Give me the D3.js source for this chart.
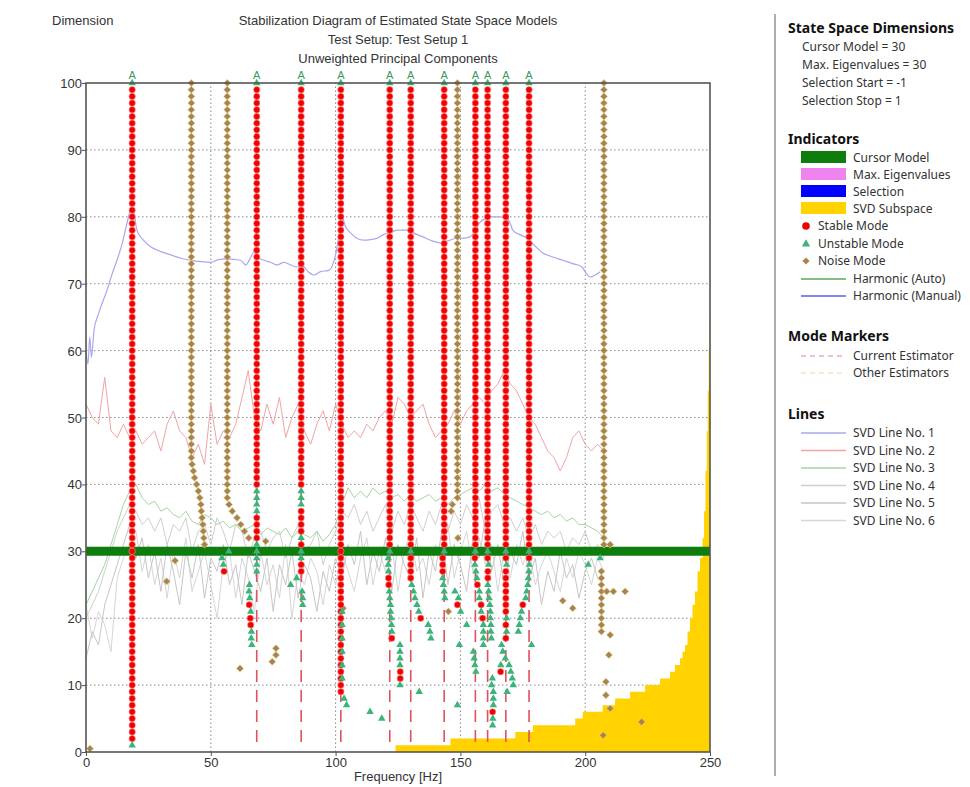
<!DOCTYPE html>
<html>
<head>
<meta charset="utf-8">
<title>Stabilization Diagram</title>
<script src="https://cdnjs.cloudflare.com/ajax/libs/d3/7.8.5/d3.min.js"></script>
<style>
    body { margin: 0; background: #fff; }
    text { font-family: "Liberation Sans", Arial, sans-serif; fill: #333; }
    .leg text { font-family: "Noto Sans", "Open Sans", sans-serif; }
</style>
</head>
<body>
<svg id="chart" width="970" height="787"></svg>
<script>
// ---- data ----
var xTicks = [0, 50, 100, 150, 200, 250]
var yTicks = [0, 10, 20, 30, 40, 50, 60, 70, 80, 90, 100]
var titleLines = ["Stabilization Diagram of Estimated State Space Models",
    "Test Setup: Test Setup 1", "Unweighted Principal Components"]
var cursorModel = 30

// stable mode columns (red dots from low dim up to 99)
var stableFreq = [18.5, 68.4, 86.2, 102.1, 121.7, 130.1, 143.5, 156, 160.9, 168.2, 177.5]
var stableLow = [2, 40, 40, 9, 31, 31, 31, 31, 31, 31, 31]

// noise mode columns (diamonds from low dim up to 100)
var noiseFreq = [42.2, 56.6, 148.8, 207.5]
var noiseLow = [44, 38, 38, 31]

// extra stable points [Hz, dim]
var stablePts = [[68.4,35],[68.4,34],[68.4,33],[68.4,32],[55.3,27],[65.4,22],[65.8,20],[66,19],
    [86.2,36],[86.2,35],[86.2,34],[86.2,33],[86.2,31],[86.2,28],[86.2,27],
    [121.2,26],[121.3,25],[122.5,17],[125.9,12],[125.9,11],
    [130.1,29],[130.1,28],[130.1,27],[130.1,26],[134.1,20],
    [142.9,29],[142.9,28],[142.9,27],[148.8,22],
    [155.8,29],[156.8,25],[158.3,22],[158.9,20],
    [160.9,29],[161,27],[161,26],[162.9,6],
    [168.2,29],[168.2,27],[168.2,26],[168.2,25],[168.2,24],[168.2,23],[168.2,22],[168.2,21],[168.2,19],[168.2,17],[166.1,12],
    [177.5,29],[175,22]]

// unstable points [Hz, dim]
var unstablePts = [[18.5,1],[68.4,39],[68.4,38],[68.4,37],[68.4,36],[68.4,31],[68.4,30],[68.4,29],[68.4,28],[68.4,27],
    [54.5,29],[55,28],[57.2,30],[65.5,25],[65.3,24],[65.6,23],[66,21],[66.3,18],[66.2,17],[66.4,16],
    [86.2,39],[86.2,38],[86.2,37],[86.2,32],[86.2,30],[86.2,29],[84.4,26],[82,25],[86.6,24],[86.8,23],[86.8,22],
    [102.6,21],[102.6,19],[102.6,17],[102.6,15],[102.6,13],[102.6,11],[103.4,8],[104.4,7],[113.8,6],[118.5,5],
    [121.7,30],[121.1,29],[121.1,28],[121.2,27],[121.5,24],[121.7,23],[122,22],[122,21],[122.3,20],[122.4,19],[122.5,18],
    [125.8,16],[125.8,15],[125.8,14],[125.8,13],[125.8,10],[133.5,9],
    [130.1,30],[130.5,25],[131.2,24],[131.8,23],[132.6,22],[133.3,21],[137.1,19],[137.8,18],[138.2,17],
    [143.5,30],[142.9,26],[143.2,25],[143.5,24],[143.8,23],[147.8,24],[149.2,23],[150.1,21],[152.5,19],[149.6,16],[148.8,7],
    [156,30],[155.8,28],[156.2,27],[156.6,26],[157.6,24],[157.6,23],[158.3,21],[159.2,19],[159.2,18],[159.2,17],[159.2,16],
    [155.2,15],[155.5,14],[155.8,13],[156.2,12],
    [160.9,30],[161.3,28],[161,25],[161.3,24],[161.5,23],[161.8,22],[162,21],[162,20],[162.2,19],[162.2,18],[162.4,17],
    [162.8,11],[162.5,10],[163.2,9],[163.2,8],[163.2,7],[163,5],[162.9,4],
    [168.2,30],[168.5,28],[168.5,20],[168.5,18],[166.5,16],[167,15],[168,14],[166.2,13],[169.5,13],[170.2,12],[170.8,11],[171.2,10],[168.7,9],
    [177.5,30],[177.6,28],[177.4,27],[177.2,26],[177,25],[176.6,24],[176.2,23],[174.5,21],[174,20],[173.6,19],[173.2,18],[178.5,16],
    [201.2,28],[206,29]]

// extra noise points [Hz, dim]
var noisePts = [[42.5,43],[43,42],[43.5,41],[44.3,40],[45,39],[45.6,38],[46,37],[46.2,36],[46.5,35],[46.8,34],[47,33],[47.2,32],[47.5,31],
    [57.3,37],[58.6,36],[60.5,35],[62,34],[63.5,33],[65.2,32],[72,31.5],
    [146.8,37],[146.3,36],[149,32],[210,31],
    [206.5,27],[206.5,26],[206.5,25],[206.5,24],[206.5,23],[206.5,22],[206.5,21],[206.5,20],[206.5,19],[206.5,18],
    [208.6,24],[211.3,24],[216,24],[210,17.5],[209.5,14.5],[208.3,10.5],[208.3,8.5],[210,6.5],[207.2,2.5],[222.6,4.5],
    [191,22.6],[195,21.5],[145.2,21],[103,21.5],
    [1.6,0.5],[35.7,28.6],[32.3,25.5],[61.7,12.5],[74.6,13.5],[76.1,14.5],[76.1,15.5]]

// SVD lines, sampled every 2.5 Hz from 0 to 207.5 Hz
var svdFreq = d3.range(0, 208, 2.5)
var svdLine2 = [52, 50, 49, 56, 48, 47, 49, 47, 48, 46,
    47, 48, 45, 49, 51, 48, 47, 44, 46, 43,
    52, 46, 48, 47, 49, 53, 57, 50, 48, 52,
    49, 53, 47, 50, 52, 48, 46, 49, 51, 48,
    52, 49, 47, 48, 47, 49, 48, 50, 51, 49,
    53, 52, 50, 51, 52, 49, 47, 48, 49, 51,
    49, 51, 52, 53, 52, 54, 55, 57, 55, 54,
    52, 50, 49, 47, 45, 44, 42, 44, 47, 48,
    46, 45, 46, 45]
var svdLine3 = [22, 24, 26, 28, 31, 34, 37, 39, 40, 38,
    37, 37.5, 36, 36.5, 35.5, 35, 36, 34.5, 34, 35.5,
    35, 34, 34.5, 33.5, 34, 33, 33.5, 34, 32.5, 33.5,
    33, 32.5, 33.5, 32, 33, 32.5, 32, 33, 31.5, 32.5,
    34, 37, 39.5, 38, 39, 38, 39.5, 38.5, 39, 38,
    38.5, 37.5, 38.5, 37.5, 38, 38.5, 37.5, 38, 37, 38,
    38.5, 39, 39.5, 39, 40, 39, 39.5, 38.5, 38, 37.5,
    37, 36.5, 36, 35.5, 36, 35, 35.5, 34.5, 35, 34,
    34, 33.5, 33, 32]
var svdLine4 = [20, 22, 24, 27, 30, 33, 35, 37, 36, 34,
    35, 33, 35, 31, 34, 33, 35, 30, 33, 34,
    31, 35, 33, 30, 34, 33, 29, 32, 33, 30,
    32, 33, 29, 32, 34, 30, 31, 33, 28, 31,
    33, 36, 35, 37, 34, 36, 33, 35, 37, 33,
    36, 34, 37, 35, 33, 36, 34, 37, 33, 36,
    34, 37, 35, 38, 33, 36, 37, 34, 35, 33,
    35, 32, 34, 31, 33, 32, 33, 30, 32, 31,
    33, 30, 31, 29]
var svdLine5 = [14, 18, 16, 22, 25, 28, 31, 34, 29, 32,
    26, 30, 24, 31, 27, 22, 30, 26, 31, 23,
    29, 27, 31, 25, 28, 22, 30, 27, 24, 29,
    21, 28, 25, 30, 23, 28, 26, 21, 27, 24,
    29, 26, 31, 28, 33, 25, 30, 27, 32, 24,
    31, 28, 26, 32, 23, 30, 27, 33, 25, 31,
    28, 24, 32, 29, 35, 27, 31, 25, 30, 28,
    33, 26, 29, 22, 27, 24, 30, 26, 28, 23,
    27, 29, 26, 25]
var svdLine6 = [22, 17, 21, 19, 15, 26, 29, 31, 33, 27,
    31, 25, 29, 23, 30, 26, 32, 24, 27, 30,
    25, 20, 28, 30, 23, 29, 26, 21, 30, 25,
    28, 23, 31, 20, 27, 25, 29, 27, 22, 28,
    25, 30, 27, 24, 29, 32, 25, 30, 27, 31,
    24, 30, 33, 27, 29, 25, 31, 28, 34, 26,
    30, 33, 27, 32, 28, 31, 24, 30, 26, 31,
    28, 30, 25, 28, 30, 27, 24, 29, 26, 30,
    28, 25, 29, 27]
// SVD line 1 [Hz, value]
var svdLine1 = [[0,60],[0.8,58],[1.5,62],[2.2,59],[3.2,63],[5,65.5],[8.4,69],[10.5,71.5],[12.4,73.5],[14.5,76],
    [16.4,79],[18.4,81.5],[19.5,80],[20.4,78],[23,76.5],[26,75.5],[30,74.8],[34,74.3],[38,73.8],[42,73.5],
    [46,73.3],[50,73.2],[53,73.6],[56.5,73.7],[60,73.6],[62,73.5],[64,72.8],[65.5,73.6],[67.3,74.7],[69,73.9],
    [71.3,73.5],[74,73.2],[76.5,72.8],[79.3,73.2],[82,72.8],[84.5,72.5],[87,72.6],[89,71.8],[91.3,71.3],[94,71.8],
    [97.4,72],[99,73],[100.6,75.5],[101.6,78],[102.6,80],[104,78.5],[106,77.6],[108.5,76.8],[111.4,76.5],[114,76.6],
    [116.6,76.8],[119,77.3],[122.2,77.7],[125,78],[128.6,78],[131,77.6],[135,77],[138,76.5],[141.8,76.1],[145,76.4],
    [148.6,76.8],[151,76.8],[153.8,77],[156,78],[157.9,79.2],[160,79.7],[161.9,80],[165,80],[168.7,79.8],[170,79],
    [171,78],[174,77.3],[176.7,76.8],[180,75.6],[183,74.6],[187,74],[191,73.5],[195,73],[198.7,72.5],[200.5,71.5],
    [202,71],[204,71.3],[206,71.8]]

// SVD subspace (yellow step area) [Hz, dim]
var subspace = [[124,1],[146,2],[172,3],[179,4],[196,5],[199,6],[207,7],[212,8],[218,9],[224,10],
    [230,11],[234,12],[236,13],[238,14],[239,15],[240,16],[241,18],[242,20],[243,22],[244,24],
    [245,27],[246,29],[247,32],[247.6,36],[248.2,42],[248.7,48],[249.1,54],[249.5,60],[249.8,65],[250,65]]

var svdColors = ["#a7a7f2", "#f2a3a3", "#a3d6a3", "#cfcfcf", "#c6c6c6", "#d6d6d6"]

// ---- drawing ----
var svg = d3.select("#chart")
var x = d3.scaleLinear([0, 250], [86, 710])
var y = d3.scaleLinear([0, 100], [752, 83])

// grid
svg.append("g").selectAll("line").data(xTicks.slice(1, -1)).enter()
    .append("line")
    .attr("x1", d => x(d)).attr("x2", d => x(d))
    .attr("y1", y(0)).attr("y2", y(100))
    .attr("stroke", "#888").attr("stroke-dasharray", "1.5,2.5")
svg.append("g").selectAll("line").data(yTicks.slice(1, -1)).enter()
    .append("line")
    .attr("x1", x(0)).attr("x2", x(250))
    .attr("y1", d => y(d)).attr("y2", d => y(d))
    .attr("stroke", "#888").attr("stroke-dasharray", "1.5,2.5")

// SVD subspace
svg.append("path")
    .datum(subspace)
    .attr("fill", "#ffd200")
    .attr("d", d3.area().x(d => x(d[0])).y0(y(0)).y1(d => y(d[1])).curve(d3.curveStepAfter))

// SVD lines, back to front
var gridLines = [svdLine6, svdLine5, svdLine4, svdLine3, svdLine2]
var lineGen = d3.line().x(d => x(d[0])).y(d => y(d[1]))
gridLines.forEach(function (vals, k) {
    svg.append("path")
        .datum(svdFreq.map((f, i) => [f, vals[i]]))
        .attr("fill", "none")
        .attr("stroke", svdColors[5 - k])
        .attr("stroke-width", 1)
        .attr("d", lineGen)
})
svg.append("path")
    .datum(svdLine1)
    .attr("fill", "none").attr("stroke", svdColors[0]).attr("stroke-width", 1.2)
    .attr("d", lineGen.curve(d3.curveMonotoneX))

// cursor model
svg.append("line")
    .attr("x1", x(0)).attr("x2", x(250))
    .attr("y1", y(cursorModel)).attr("y2", y(cursorModel))
    .attr("stroke", "#0e7d0e").attr("stroke-width", 9)

// mode markers, current estimator
svg.append("g").selectAll("line").data(stableFreq).enter()
    .append("line")
    .attr("x1", d => x(d)).attr("x2", d => x(d))
    .attr("y1", y(1.5)).attr("y2", y(100))
    .attr("stroke", "#e2505e").attr("stroke-width", 1.6)
    .attr("stroke-dasharray", "12,8")

// noise columns
var noiseAll = []
noiseFreq.forEach(function (f, i) {
    d3.range(noiseLow[i], 101).forEach(d => noiseAll.push([f, d]))
})
noiseAll = noiseAll.concat(noisePts)
var diamond = d3.symbol(d3.symbolSquare).size(25)
svg.append("g").selectAll("path").data(noiseAll).enter()
    .append("path")
    .attr("d", diamond)
    .attr("transform", d => "translate(" + x(d[0]) + "," + y(d[1]) + ") rotate(45)")
    .attr("fill", "#a8844a")
    .attr("stroke", "#e0c890").attr("stroke-width", 0.6)

// stable columns
var stableAll = []
stableFreq.forEach(function (f, i) {
    d3.range(stableLow[i], 100).forEach(d => stableAll.push([f, d]))
})
stableAll = stableAll.concat(stablePts)
svg.append("g").selectAll("circle").data(stableAll).enter()
    .append("circle")
    .attr("cx", d => x(d[0])).attr("cy", d => y(d[1]))
    .attr("r", 3.2)
    .attr("fill", "#f00000")
    .attr("stroke", "#ff9a9a").attr("stroke-width", 0.6)

// unstable
var triAll = unstablePts.concat(stableFreq.map(f => [f, 100]))
var tri = d3.symbol(d3.symbolTriangle).size(24)
svg.append("g").selectAll("path").data(triAll).enter()
    .append("path")
    .attr("d", tri)
    .attr("transform", d => "translate(" + x(d[0]) + "," + y(d[1]) + ")")
    .attr("fill", "#3cb37a")

// A labels above stable columns
svg.append("g").selectAll("text").data(stableFreq).enter()
    .append("text")
    .attr("x", d => x(d)).attr("y", y(100) - 4)
    .attr("text-anchor", "middle")
    .style("font-size", "11px")
    .style("fill", "#3a9a5a")
    .text("A")

// frame
svg.append("rect")
    .attr("x", x(0)).attr("y", y(100))
    .attr("width", x(250) - x(0)).attr("height", y(0) - y(100))
    .attr("fill", "none").attr("stroke", "#555").attr("stroke-width", 1.6)

// axes
var yAxis = svg.append("g")
    .attr("transform", "translate(" + x(0) + ",0)")
    .call(d3.axisLeft(y).tickValues(yTicks).tickSize(4).tickSizeOuter(0))
var xAxis = svg.append("g")
    .attr("transform", "translate(0," + y(0) + ")")
    .call(d3.axisBottom(x).tickValues(xTicks).tickSize(4).tickSizeOuter(0))
svg.selectAll(".domain").remove()
svg.selectAll(".tick line").attr("stroke", "#555")
yAxis.selectAll("text").style("font-size", "13px").attr("x", -4).attr("dy", "0.35em").style("fill", "#333")
xAxis.selectAll("text").style("font-size", "13px").attr("y", 6).style("fill", "#333")

svg.append("text").attr("x", 398).attr("y", 781).attr("text-anchor", "middle")
    .style("font-size", "13px").text("Frequency [Hz]")
svg.append("text").attr("x", 52).attr("y", 25)
    .style("font-size", "13px").text("Dimension")
svg.append("g").selectAll("text").data(titleLines).enter()
    .append("text")
    .attr("x", 398).attr("y", (d, i) => 25 + i * 19)
    .attr("text-anchor", "middle")
    .style("font-size", "13px")
    .text(d => d)

// ---- legend panel ----
var leg = svg.append("g").attr("class", "leg")
leg.append("line").attr("x1", 775).attr("x2", 775).attr("y1", 14).attr("y2", 776)
    .attr("stroke", "#777").attr("stroke-width", 1.2)

function heading(txt, yy) {
    leg.append("text").attr("x", 788).attr("y", yy)
        .style("font-size", "14px").style("font-weight", "bold").style("fill", "#111").text(txt)
}
function item(txt, xx, yy) {
    leg.append("text").attr("x", xx).attr("y", yy)
        .style("font-size", "12px").style("fill", "#333").text(txt)
}

heading("State Space Dimensions", 33)
var dimLines = ["Cursor Model = 30", "Max. Eigenvalues = 30", "Selection Start = -1", "Selection Stop = 1"]
dimLines.forEach((t, i) => item(t, 802, 51 + i * 18))

heading("Indicators", 144)
var swatchNames = ["Cursor Model", "Max. Eigenvalues", "Selection", "SVD Subspace"]
var swatchColors = ["#0e7d0e", "#ee82ee", "#0000ff", "#ffd200"]
swatchNames.forEach(function (t, i) {
    leg.append("rect").attr("x", 801).attr("y", 151 + i * 17).attr("width", 45).attr("height", 12)
        .attr("fill", swatchColors[i])
    item(t, 853, 162 + i * 17)
})
leg.append("circle").attr("cx", 806).attr("cy", 226).attr("r", 3.8).attr("fill", "#f00000")
item("Stable Mode", 818, 230)
leg.append("path").attr("d", d3.symbol(d3.symbolTriangle).size(30))
    .attr("transform", "translate(806,244)").attr("fill", "#3cb37a")
item("Unstable Mode", 818, 248)
leg.append("path").attr("d", d3.symbol(d3.symbolSquare).size(25))
    .attr("transform", "translate(806,261) rotate(45)").attr("fill", "#a8844a")
item("Noise Mode", 818, 265)
leg.append("line").attr("x1", 801).attr("x2", 846).attr("y1", 279).attr("y2", 279)
    .attr("stroke", "#5aa85a").attr("stroke-width", 1.5)
item("Harmonic (Auto)", 853, 283)
leg.append("line").attr("x1", 801).attr("x2", 846).attr("y1", 296).attr("y2", 296)
    .attr("stroke", "#5c5cf0").attr("stroke-width", 1.5)
item("Harmonic (Manual)", 853, 300)

heading("Mode Markers", 341)
leg.append("line").attr("x1", 801).attr("x2", 846).attr("y1", 356).attr("y2", 356)
    .attr("stroke", "#e8838c").attr("stroke-width", 1.2).attr("stroke-dasharray", "5,4")
item("Current Estimator", 853, 360)
leg.append("line").attr("x1", 801).attr("x2", 846).attr("y1", 373).attr("y2", 373)
    .attr("stroke", "#f6d2a2").attr("stroke-width", 1.2).attr("stroke-dasharray", "5,4")
item("Other Estimators", 853, 377)

heading("Lines", 419)
svdColors.forEach(function (c, i) {
    leg.append("line").attr("x1", 801).attr("x2", 846).attr("y1", 433 + i * 17.5).attr("y2", 433 + i * 17.5)
        .attr("stroke", c).attr("stroke-width", 1.5)
    item("SVD Line No. " + (i + 1), 853, 437 + i * 17.5)
})
</script>
</body>
</html>
